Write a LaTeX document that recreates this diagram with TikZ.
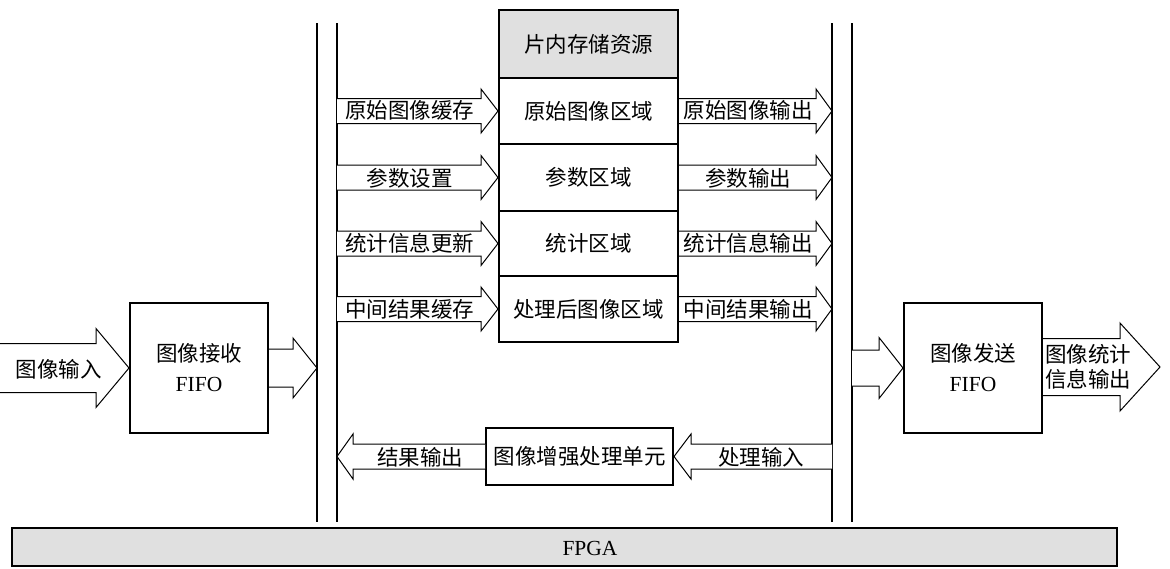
\documentclass[tikz,border=0pt]{standalone}
\usepackage{fontspec}
\setmainfont{Liberation Serif}
\newfontfamily\cjk{Noto Sans CJK SC}
\usetikzlibrary{calc}
\definecolor{hdr}{HTML}{E0E0E0}
\newcommand\blockarrow[5]{%
  \draw[barrow] let \p1=(#1), \p2=(#2) in
    ({\x1},{\y2+#3}) -- ({\x2-(#5)},{\y2+#3}) -- ({\x2-(#5)},{\y2+#4}) -- ({\x2},{\y2})
    -- ({\x2-(#5)},{\y2-#4}) -- ({\x2-(#5)},{\y2-#3}) -- ({\x1},{\y2-#3});}
\begin{document}
\begin{tikzpicture}[x=1pt,y=-1pt,
  box/.style={draw, line width=2pt, inner sep=0pt, align=center, font=\fontsize{21.5}{30}\selectfont},
  lbl/.style={inner sep=0pt, align=center, font=\fontsize{21.5}{25}\selectfont},
  barrow/.style={draw, line width=1pt, fill=white, line join=miter},
  bus/.style={line width=1.3pt}]
\useasboundingbox (0,0) rectangle (1170,568);
% bus lines
\coordinate (L1) at (317,23);
\coordinate (L2) at (337,23);
\coordinate (R1) at (832,23);
\coordinate (R2) at (852,23);
\draw[bus] (L1) -- (317,522);
\draw[bus] (L2) -- (337,522);
\draw[bus] (R1) -- (832,522);
\draw[bus] (R2) -- (852,522);
% memory block
\node[box, fill=hdr, minimum width=179pt, minimum height=68pt] (mem) at (588.5,44) {\cjk 片内存储资源};
\node[box, minimum width=179pt, minimum height=66pt] (r1) at (588.5,111) {\cjk 原始图像区域};
\node[box, minimum width=179pt, minimum height=67pt] (r2) at (588.5,177.5) {\cjk 参数区域};
\node[box, minimum width=179pt, minimum height=65pt] (r3) at (588.5,243.5) {\cjk 统计区域};
\node[box, minimum width=179pt, minimum height=66pt] (r4) at (588.5,309) {\cjk 处理后图像区域};
% left arrows into memory
\blockarrow{L2|-r1}{r1.west}{12.5pt}{22pt}{17pt}
\blockarrow{L2|-r2}{r2.west}{12.5pt}{22pt}{17pt}
\blockarrow{L2|-r3}{r3.west}{12.5pt}{22pt}{17pt}
\blockarrow{L2|-r4}{r4.west}{12.5pt}{22pt}{17pt}
\node[lbl] (a1) at (409.5,110) {\cjk 原始图像缓存};
\node[lbl] (a2) at (409.5,178) {\cjk 参数设置};
\node[lbl] (a3) at (409.5,243) {\cjk 统计信息更新};
\node[lbl] (a4) at (409.5,309) {\cjk 中间结果缓存};
% right arrows out of memory
\blockarrow{r1.east}{R1|-r1}{12.5pt}{22pt}{16pt}
\blockarrow{r2.east}{R1|-r2}{12.5pt}{22pt}{16pt}
\blockarrow{r3.east}{R1|-r3}{12.5pt}{22pt}{16pt}
\blockarrow{r4.east}{R1|-r4}{12.5pt}{22pt}{16pt}
\node[lbl] (b1) at (748,110) {\cjk 原始图像输出};
\node[lbl] (b2) at (748,178) {\cjk 参数输出};
\node[lbl] (b3) at (748,243) {\cjk 统计信息输出};
\node[lbl] (b4) at (748,309) {\cjk 中间结果输出};
% processing unit
\node[box, minimum width=187pt, minimum height=57pt] (proc) at (579.5,456.5) {\cjk 图像增强处理单元};
\blockarrow{proc.west}{L2|-proc}{12.5pt}{22.5pt}{-16pt}
\blockarrow{R1|-proc}{proc.east}{12.5pt}{22.5pt}{-17pt}
\node[lbl] (c1) at (420,457) {\cjk 结果输出};
\node[lbl] (c2) at (761,457) {\cjk 处理输入};
% FIFOs
\node[box, minimum width=138pt, minimum height=130pt] (fifo1) at (199,368) {{\cjk 图像接收}\\FIFO};
\node[box, minimum width=138pt, minimum height=130pt] (fifo2) at (973,368) {{\cjk 图像发送}\\FIFO};
\coordinate (in) at (0,369);
\coordinate (out) at (1160,367);
\blockarrow{in}{fifo1.west}{24.5pt}{39.5pt}{33pt}
\node[lbl] (d1) at (59,369) {\cjk 图像输入};
\blockarrow{fifo1.east}{L1|-fifo1}{19pt}{30pt}{24pt}
\blockarrow{R2|-fifo2}{fifo2.west}{18pt}{30.5pt}{24pt}
\blockarrow{fifo2.east}{out}{28.5pt}{44pt}{40pt}
\node[lbl, anchor=west] (d2) at (1045,367) {\cjk 图像统计\\\cjk 信息输出};
% FPGA
\node[draw, line width=2pt, fill=hdr, minimum width=1105pt, minimum height=38pt, inner sep=0pt] (fpga) at (564.5,547) {};
\node[lbl] (fpgal) at (590,548) {FPGA};
\end{tikzpicture}
\end{document}
